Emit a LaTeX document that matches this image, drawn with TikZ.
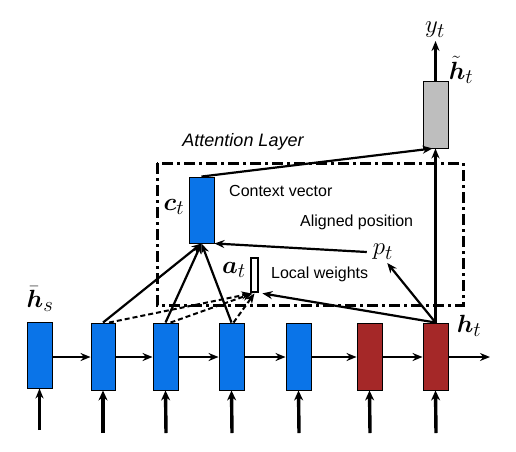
\documentclass[tikz,border=0pt]{standalone}
\usepackage{fontspec}
\setmainfont{Liberation Sans}
\usepackage{amsmath}
\usepackage{bm}
\usetikzlibrary{arrows.meta}
\definecolor{cblue}{RGB}{10,116,232}
\definecolor{cred}{RGB}{165,40,40}
\definecolor{cgray}{RGB}{190,190,190}
\begin{document}
\begin{tikzpicture}[x=1pt,y=-1pt,
  cell/.style={draw=black,line width=0.9pt,minimum width=25pt,minimum height=67pt,inner sep=0pt},
  arr/.style={line width=2.2pt,-{Stealth[length=10pt,width=8pt]}},
  inarr/.style={line width=3.4pt,-{Stealth[length=10pt,width=9pt]}},
  darr/.style={line width=2pt,dash pattern=on 5pt off 3pt,-{Stealth[length=10pt,width=8pt]}},
  txt/.style={font=\fontsize{16}{19}\selectfont,inner sep=0pt},
  mth/.style={font=\fontsize{24.88}{28}\selectfont,inner sep=0pt}]
\useasboundingbox (0,0) rectangle (516,451);
% attention box
\draw[line width=3pt,dash pattern=on 11pt off 4pt on 3pt off 4pt] (157,163) rectangle (463,305);
\node[txt,font=\fontsize{18}{21}\selectfont\itshape] (al) at (243,142) {Attention Layer};
% bottom cells
\node[cell,fill=cblue,minimum height=66pt] (b1) at (39.5,355) {};
\node[cell,fill=cblue,minimum width=24pt] (b2) at (103,356.5) {};
\node[cell,fill=cblue] (b3) at (165.5,356.5) {};
\node[cell,fill=cblue] (b4) at (231.5,356.5) {};
\node[cell,fill=cblue] (b5) at (298.5,356.5) {};
\node[cell,fill=cred] (b6) at (369.5,356.5) {};
\node[cell,fill=cred] (b7) at (435.5,356.5) {};
% context and output
\node[cell,fill=cblue,minimum height=66pt] (ct) at (201.5,210) {};
\node[cell,fill=cgray] (gt) at (435.5,114.5) {};
\node[draw=black,line width=2.8pt,fill=white,minimum width=7pt,minimum height=34pt,inner sep=0pt] (bar) at (254.5,275) {};
% labels
\node[mth] (lyt) at (435,30) {$y_t$};
\node[mth] (lht) at (461,70) {$\tilde{\bm{h}}_t$};
\node[mth] (lhs) at (40,299) {$\bar{\bm{h}}_s$};
\node[mth] (lhtt) at (469,326) {$\bm{h}_t$};
\node[mth] (lct) at (174,207) {$\bm{c}_t$};
\node[mth] (lat) at (234,270) {$\bm{a}_t$};
\node[mth] (pt) at (383,252) {$p_t$};
\node[txt,anchor=west] (cv) at (229,191) {Context vector};
\node[txt,anchor=west] (ap) at (300,222) {Aligned position};
\node[txt,anchor=west] (lw) at (271,274) {Local weights};
% recurrent arrows
\coordinate (rend) at (490,357);
\coordinate (yend) at (435.5,41);
\draw[arr] (b1.east |- 0,357) -- (b2.west |- 0,357);
\draw[arr] (b2.east |- 0,357) -- (b3.west |- 0,357);
\draw[arr] (b3.east |- 0,357) -- (b4.west |- 0,357);
\draw[arr] (b4.east |- 0,357) -- (b5.west |- 0,357);
\draw[arr] (b5.east |- 0,357) -- (b6.west |- 0,357);
\draw[arr] (b6.east |- 0,357) -- (b7.west |- 0,357);
\draw[arr] (b7.east |- 0,357) -- (rend);
% input arrows
\coordinate (i1) at (39.5,430);
\coordinate (i2) at (103,433);
\coordinate (i3) at (166,433);
\coordinate (i4) at (232,433);
\coordinate (i5) at (299,433);
\coordinate (i6) at (370,433);
\coordinate (i7) at (436,433);
\draw[arr] (i1) -- (b1.south);
\draw[inarr] (i2) -- (b2.south);
\draw[inarr] (i3) -- (b3.south);
\draw[inarr] (i4) -- (b4.south);
\draw[inarr] (i5) -- (b5.south);
\draw[inarr] (i6) -- (b6.south);
\draw[inarr] (i7) -- (b7.south);
% attention arrows
\draw[arr] (b2.north) -- (ct.south);
\draw[arr] (b3.north) -- (ct.south);
\draw[arr] (b4.north) -- (ct.south);
\draw[darr] ([xshift=6pt]b2.north) -- ([xshift=-3pt]bar.south);
\draw[darr] ([xshift=5pt]b3.north) -- ([xshift=-2pt]bar.south);
\draw[darr] ([xshift=2pt]b4.north) -- (bar.south);
\draw[arr] ([xshift=-6pt]pt.west) -- (ct.south east);
\draw[arr] (b7.north) -- ([xshift=-6pt,yshift=-3pt]pt.south east);
\draw[arr] (b7.north) -- ([xshift=3pt]bar.south east);
\draw[arr] (b7.north) -- (gt.south);
\draw[arr] (ct.north) -- ([xshift=-3pt]gt.south);
\draw[arr] (gt.north) -- (yend);
\end{tikzpicture}
\end{document}
